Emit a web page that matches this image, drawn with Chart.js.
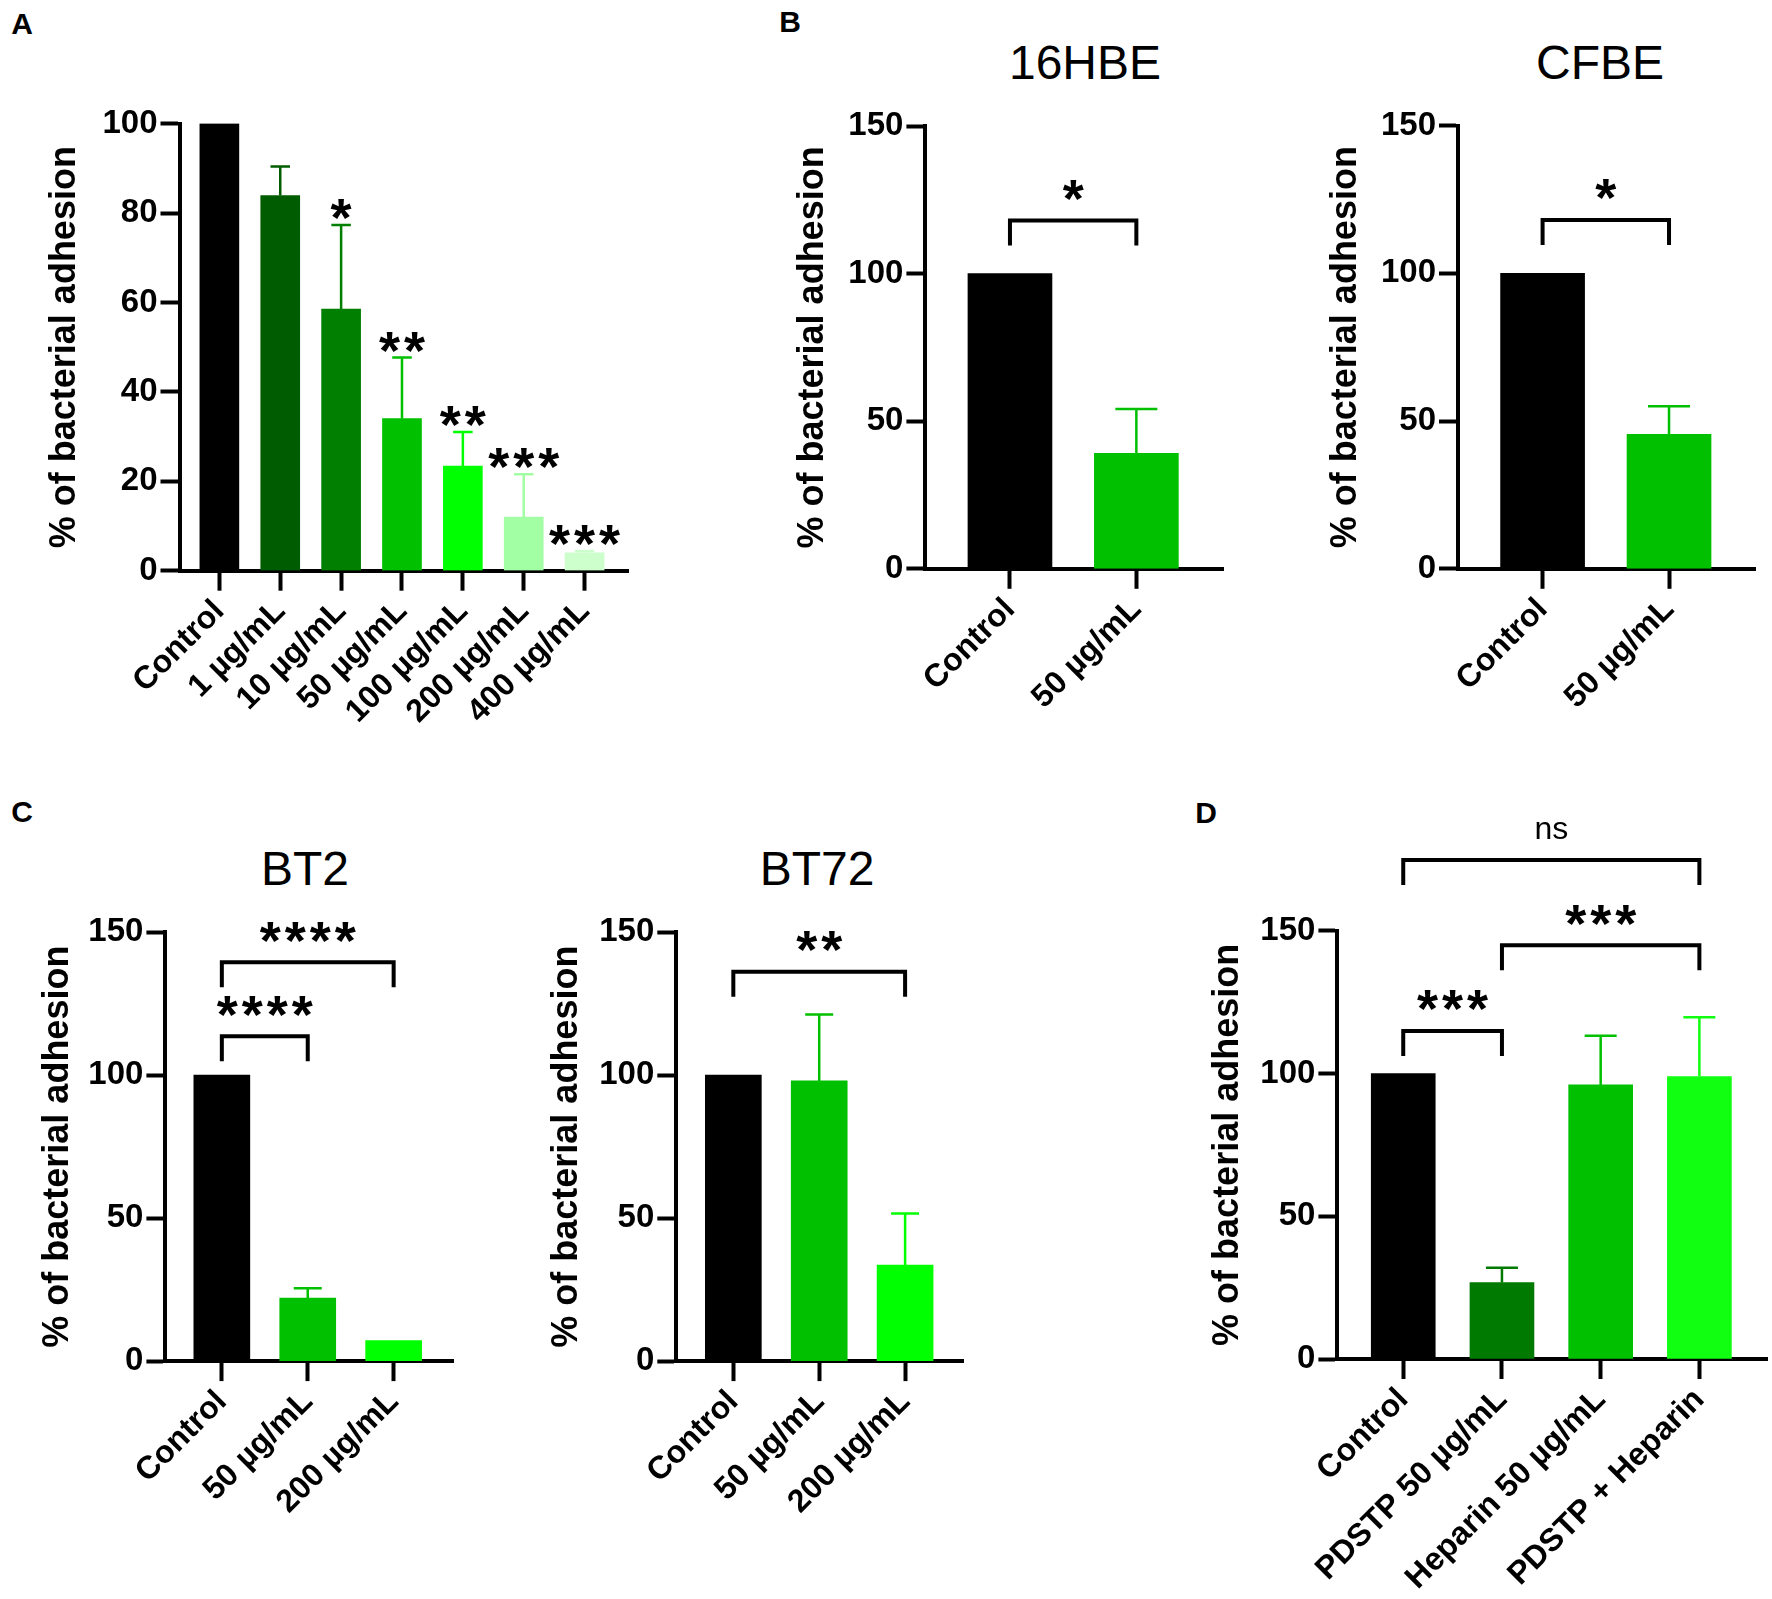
<!DOCTYPE html>
<html>
<head>
<meta charset="utf-8">
<script src="https://cdn.jsdelivr.net/npm/chart.js@4/dist/chart.umd.min.js"></script>
<style>
  html, body { margin: 0; padding: 0; background: #fff; }
  #fig { position: relative; width: 1772px; height: 1599px; background: #fff; overflow: hidden; }
  #fig canvas { position: absolute; }
  .lbl { position: absolute; transform: translate(-50%, -50%); line-height: 1; white-space: nowrap;
         font-family: "Liberation Sans", Arial, sans-serif; color: #000; }
  .letter { font-weight: bold; font-size: 30px; }
  .ttl { font-size: 48px; }
</style>
</head>
<body>
<div id="fig">
  <div class="lbl letter" style="left:22px;top:24px">A</div>
  <div class="lbl letter" style="left:790px;top:22px">B</div>
  <div class="lbl letter" style="left:22px;top:812px">C</div>
  <div class="lbl letter" style="left:1206px;top:813px">D</div>
  <div class="lbl ttl" style="left:1085px;top:63px">16HBE</div>
  <div class="lbl ttl" style="left:1600px;top:63px">CFBE</div>
  <div class="lbl ttl" style="left:305px;top:869px">BT2</div>
  <div class="lbl ttl" style="left:817px;top:869px">BT72</div>
</div>
<script>
// ---- data ----
// A: dose response
const catsA = ['Control', '1 µg/mL', '10 µg/mL', '50 µg/mL', '100 µg/mL', '200 µg/mL', '400 µg/mL'];
const meanA = [100, 83.9, 58.5, 34.0, 23.4, 12.0, 4.0];
const sdA = [0, 6.5, 18.8, 13.7, 7.6, 9.6, 0.4];
const sigA = ['', '', '*', '**', '**', '***', '***'];
const colorsA = ['#000000', '#005c00', '#007f00', '#00c000', '#00ff00', '#a3ffa3', '#ccffcc'];
const yTicksA = [0, 20, 40, 60, 80, 100];

// B: 16HBE / CFBE
const catsB = ['Control', '50 µg/mL'];
const meanHBE = [100, 39.1];
const sdHBE = [0, 15.0];
const meanCFBE = [100, 45.5];
const sdCFBE = [0, 9.5];
const colorsB = ['#000000', '#00c000'];
const bracketsHBE = [[0, 1, 118, '*']];
const bracketsCFBE = [[0, 1, 118, '*']];

// C: BT2 / BT72
const catsC = ['Control', '50 µg/mL', '200 µg/mL'];
const meanBT2 = [100, 22.0, 7.2];
const sdBT2 = [0, 3.5, 0];
const meanBT72 = [100, 98.0, 33.6];
const sdBT72 = [0, 23.2, 18.0];
const colorsC = ['#000000', '#00c000', '#00ff00'];
const bracketsBT2 = [[0, 1, 113.6, '****'], [0, 2, 139.5, '****']];
const bracketsBT72 = [[0, 2, 136.2, '**']];

// D: heparin competition
const catsD = ['Control', 'PDSTP 50 µg/mL', 'Heparin 50 µg/mL', 'PDSTP + Heparin'];
const meanD = [100, 26.8, 96.0, 98.9];
const sdD = [0, 5.2, 17.2, 20.8];
const colorsD = ['#000000', '#007a00', '#00c000', '#11ff11'];
const bracketsD = [[0, 1, 114.9, '***'], [1, 3, 144.9, '***'], [0, 3, 174.8, 'ns']];

const yTicks150 = [0, 50, 100, 150];

const FONT = '"Liberation Sans", Arial, sans-serif';
const STAR = 54, STAR_GAP = 25;

function drawStars(ctx, x, cy, label) {
    ctx.save();
    ctx.fillStyle = '#000';
    ctx.font = 'bold ' + STAR + 'px ' + FONT;
    ctx.textAlign = 'center';
    ctx.textBaseline = 'alphabetic';
    const n = label.length;
    for (let i = 0; i < n; i++) {
        ctx.fillText('*', x + (i - (n - 1) / 2) * STAR_GAP, cy + 0.58 * STAR);
    }
    ctx.restore();
}

// error bars, stars and brackets, all placed through the chart scales
function annotations(means, sds, colors, barW, sig, brackets) {
    return {
        id: 'annot',
        afterDatasetsDraw(chart) {
            const ctx = chart.ctx;
            const ys = chart.scales.y, xs = chart.scales.x;
            const meta = chart.getDatasetMeta(0);
            ctx.save();
            ctx.lineWidth = 2.5;
            meta.data.forEach(function (bar, i) {
                const top = ys.getPixelForValue(means[i] + sds[i]);
                if (sds[i] > 0) {
                    ctx.strokeStyle = colors[i];
                    ctx.beginPath();
                    ctx.moveTo(bar.x, ys.getPixelForValue(means[i]));
                    ctx.lineTo(bar.x, top);
                    ctx.moveTo(bar.x - barW / 4, top);
                    ctx.lineTo(bar.x + barW / 4, top);
                    ctx.stroke();
                }
                if (sig && sig[i]) {
                    drawStars(ctx, bar.x, top - 20, sig[i]);
                }
            });
            ctx.strokeStyle = '#000';
            ctx.lineWidth = 4;
            ctx.lineJoin = 'miter';
            (brackets || []).forEach(function (b) {
                const x1 = xs.getPixelForValue(b[0]);
                const x2 = xs.getPixelForValue(b[1]);
                const y = ys.getPixelForValue(b[2]);
                ctx.beginPath();
                ctx.moveTo(x1, y + 25);
                ctx.lineTo(x1, y);
                ctx.lineTo(x2, y);
                ctx.lineTo(x2, y + 25);
                ctx.stroke();
                if (b[3] === 'ns') {
                    ctx.fillStyle = '#000';
                    ctx.font = '32px ' + FONT;
                    ctx.textAlign = 'center';
                    ctx.textBaseline = 'middle';
                    ctx.fillText('ns', (x1 + x2) / 2, y - 30);
                } else {
                    drawStars(ctx, (x1 + x2) / 2, y - 35, b[3]);
                }
            });
            ctx.restore();
        }
    };
}

function makePanel(box, plot, cats, means, sds, colors, o) {
    const canvas = document.createElement('canvas');
    canvas.width = box.w;
    canvas.height = box.h;
    canvas.style.left = box.x + 'px';
    canvas.style.top = box.y + 'px';
    document.getElementById('fig').appendChild(canvas);

    const yW = plot.l - box.x;
    const xH = box.y + box.h - plot.b;

    new Chart(canvas.getContext('2d'), {
        type: 'bar',
        data: {
            datasets: [{
                data: means.map(function (v, i) { return { x: i, y: v }; }),
                backgroundColor: colors,
                borderWidth: 0,
                barThickness: o.barW
            }]
        },
        options: {
            responsive: false,
            animation: false,
            layout: { padding: { left: 0, top: plot.t - box.y, right: box.x + box.w - plot.r, bottom: 0 } },
            plugins: { legend: { display: false }, tooltip: { enabled: false } },
            scales: {
                x: {
                    type: 'linear',
                    min: o.xMin,
                    max: cats.length - 1 + o.xEnd,
                    offset: false,
                    afterBuildTicks: function (s) { s.ticks = cats.map(function (c, i) { return { value: i }; }); },
                    afterFit: function (s) { s.height = xH; },
                    ticks: {
                        autoSkip: false, minRotation: 45, maxRotation: 45, padding: 2,
                        color: '#000',
                        font: { family: FONT, size: 32, weight: 'bold' },
                        callback: function (v) { return cats[Math.round(v)]; }
                    },
                    grid: { offset: false, drawOnChartArea: false, drawTicks: true, tickLength: 20, tickColor: '#000', tickWidth: 4 },
                    border: { display: true, color: '#000', width: 4 }
                },
                y: {
                    min: 0,
                    max: o.yTicks[o.yTicks.length - 1],
                    afterBuildTicks: function (s) { s.ticks = o.yTicks.map(function (v) { return { value: v }; }); },
                    afterFit: function (s) { s.width = yW; },
                    ticks: { color: '#000', padding: 3, font: { family: FONT, size: 33, weight: 'bold' } },
                    grid: { drawOnChartArea: false, drawTicks: true, tickLength: 19, tickColor: '#000', tickWidth: 4 },
                    border: { display: true, color: '#000', width: 4 },
                    title: {
                        display: true, text: '% of bacterial adhesion', color: '#000',
                        font: { family: FONT, size: 36, weight: 'bold', lineHeight: 1.2 },
                        padding: { top: o.titleX - box.x - 21.6, bottom: 0 }
                    }
                }
            }
        },
        plugins: [annotations(means, sds, colors, o.barW, o.sig, o.brackets)]
    });
}

makePanel({ x: 0, y: 0, w: 690, h: 780 }, { l: 179.5, t: 123.6, r: 628, b: 570.7 },
    catsA, meanA, sdA, colorsA,
    { barW: 39, xMin: -0.655, xEnd: 0.713, yTicks: yTicksA, titleX: 65, sig: sigA });

makePanel({ x: 700, y: 0, w: 540, h: 780 }, { l: 925.4, t: 126, r: 1223.7, b: 568.8 },
    catsB, meanHBE, sdHBE, colorsB,
    { barW: 84, xMin: -0.669, xEnd: 0.691, yTicks: yTicks150, titleX: 813.4, brackets: bracketsHBE });

makePanel({ x: 1240, y: 0, w: 532, h: 780 }, { l: 1458, t: 125.5, r: 1755, b: 568.8 },
    catsB, meanCFBE, sdCFBE, colorsB,
    { barW: 84, xMin: -0.669, xEnd: 0.68, yTicks: yTicks150, titleX: 1346, brackets: bracketsCFBE });

makePanel({ x: 0, y: 780, w: 500, h: 819 }, { l: 165.4, t: 932.2, r: 453, b: 1361.1 },
    catsC, meanBT2, sdBT2, colorsC,
    { barW: 56, xMin: -0.657, xEnd: 0.691, yTicks: yTicks150, titleX: 57.7, brackets: bracketsBT2 });

makePanel({ x: 500, y: 780, w: 500, h: 819 }, { l: 676.3, t: 932.2, r: 963.5, b: 1361.1 },
    catsC, meanBT72, sdBT72, colorsC,
    { barW: 56, xMin: -0.664, xEnd: 0.68, yTicks: yTicks150, titleX: 567.3, brackets: bracketsBT72 });

makePanel({ x: 1150, y: 780, w: 622, h: 819 }, { l: 1337.4, t: 930.7, r: 1767, b: 1359 },
    catsD, meanD, sdD, colorsD,
    { barW: 64, xMin: -0.667, xEnd: 0.685, yTicks: yTicks150, titleX: 1227.7, brackets: bracketsD });
</script>
</body>
</html>
